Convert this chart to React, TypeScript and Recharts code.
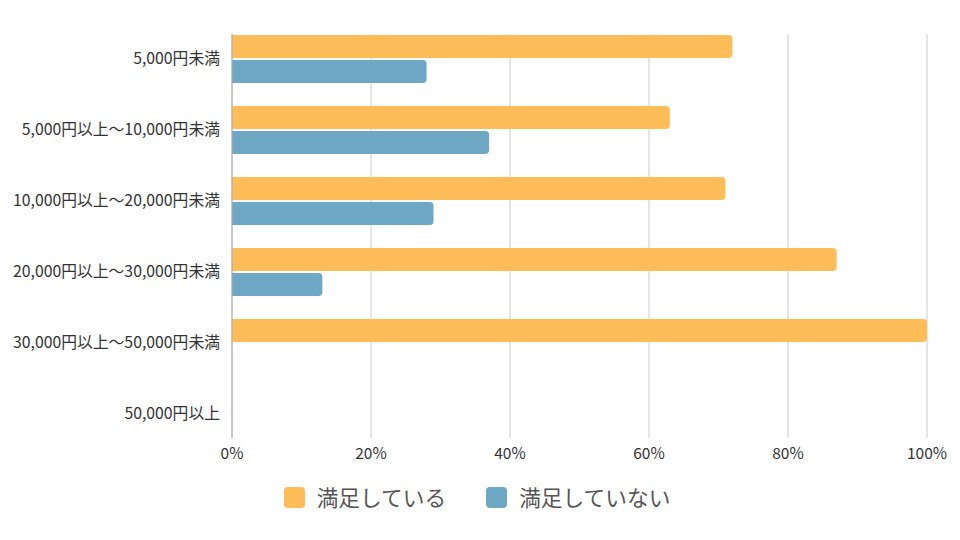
import React from 'react';
import { BarChart, Bar, XAxis, YAxis, CartesianGrid, Legend } from 'recharts';

const categories = [
  '5,000円未満',
  '5,000円以上〜10,000円未満',
  '10,000円以上〜20,000円未満',
  '20,000円以上〜30,000円未満',
  '30,000円以上〜50,000円未満',
  '50,000円以上',
];
const satisfied = [72, 63, 71, 87, 100, 0];
const notSatisfied = [28, 37, 29, 13, 0, 0];
const xTicks = [0, 20, 40, 60, 80, 100];

const seriesNames = ['満足している', '満足していない'];
const seriesColors = ['#FFBD59', '#6FA8C4'];

const data = categories.map((c, i) => ({
  name: c,
  s: satisfied[i],
  n: notSatisfied[i],
}));

const FONT = '"Noto Sans CJK JP", "Noto Sans", sans-serif';

const LegendContent = () => (
  <div
    style={{
      display: 'flex',
      justifyContent: 'center',
      alignItems: 'center',
      fontFamily: FONT,
      fontSize: 21.7,
      color: '#555',
      gap: 40,
    }}
  >
    {seriesNames.map((n, i) => (
      <div key={n} style={{ display: 'flex', alignItems: 'center' }}>
        <span
          style={{
            display: 'inline-block',
            width: 21,
            height: 21,
            borderRadius: 4,
            background: seriesColors[i],
            marginRight: 12,
          }}
        />
        <span style={{ lineHeight: '22px' }}>{n}</span>
      </div>
    ))}
  </div>
);

export default function App() {
  return (
    <div style={{ position: 'absolute', left: 0, top: 0, width: 960, height: 540, background: '#fff' }}>
      <BarChart
        width={960}
        height={540}
        data={data}
        layout="vertical"
        margin={{ top: 34, right: 33, bottom: 72, left: 0 }}
        barSize={23}
        barGap={2}
      >
        <CartesianGrid horizontal={false} stroke="#cccccc" />
        <XAxis
          type="number"
          domain={[0, 100]}
          ticks={xTicks}
          tickFormatter={(v) => `${v}%`}
          axisLine={false}
          tickLine={false}
          tickSize={0}
          tickMargin={10}
          height={30}
          tick={{ fontFamily: FONT, fontSize: 15.5, fill: '#333' }}
          interval={0}
        />
        <YAxis
          type="category"
          dataKey="name"
          width={232}
          axisLine={{ stroke: '#aaa' }}
          tickLine={false}
          tickSize={0}
          tickMargin={12}
          padding={{ top: -11, bottom: -11 }}
          tick={{ fontFamily: FONT, fontSize: 15.8, fill: '#333' }}
          interval={0}
        />
        <Legend
          layout="horizontal"
          verticalAlign="middle"
          align="center"
          wrapperStyle={{ top: 486, left: -3, width: 960 }}
          content={() => <LegendContent />}
        />
        <Bar dataKey="s" name={seriesNames[0]} fill={seriesColors[0]} radius={[0, 4, 4, 0]} isAnimationActive={false} />
        <Bar dataKey="n" name={seriesNames[1]} fill={seriesColors[1]} radius={[0, 4, 4, 0]} isAnimationActive={false} />
      </BarChart>
    </div>
  );
}
